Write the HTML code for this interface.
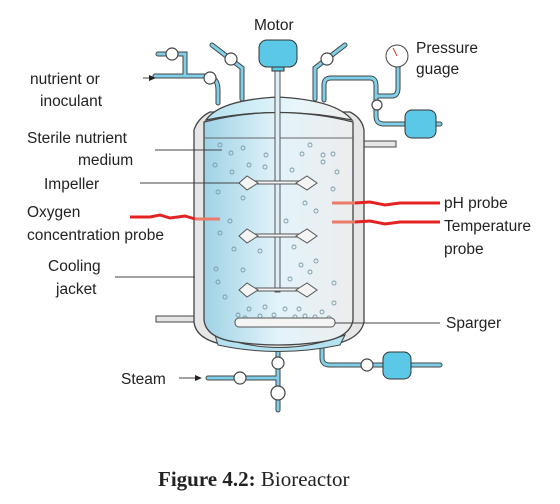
<!DOCTYPE html>
<html><head><meta charset="utf-8"><style>
html,body{margin:0;padding:0;background:#fff}
svg{display:block}
text{font-family:"Liberation Sans",sans-serif;font-size:15.5px;fill:#222}
</style></head><body>
<svg width="560" height="504" viewBox="0 0 560 504">
<defs>
<linearGradient id="liq" x1="0" x2="1"><stop offset="0" stop-color="#9fd3e6"/><stop offset="0.5" stop-color="#e3f3fa"/><stop offset="1" stop-color="#ededed"/></linearGradient>
<linearGradient id="dome" x1="0" x2="1"><stop offset="0" stop-color="#b5e2f0"/><stop offset="0.6" stop-color="#e8f6fb"/><stop offset="1" stop-color="#eeeeee"/></linearGradient>
</defs>
<g fill="none" stroke-linecap="round">
<g stroke="#444" stroke-width="5">
<path d="M158 54 H185 V76 H205 Q218 76 218 90 V103"/>
<path d="M155 76 H205"/>
<path d="M212 45 L242 68 V99"/>
<path d="M345 45 L315 68 V99"/>
<path d="M324 100 V85 Q324 78 331 78 H370 Q376 78 376 86 V96 H392 Q398 96 398 88 V66"/>
<path d="M376 96 V116 Q376 124 384 124 H440"/>
<path d="M322 345 V358 Q322 365 330 365 H440"/>
<path d="M278 345 V410"/>
<path d="M208 378 H278"/>
</g>
<g stroke="#7fcfe8" stroke-width="3">
<path d="M158 54 H185 V76 H205 Q218 76 218 90 V103"/>
<path d="M155 76 H205"/>
<path d="M212 45 L242 68 V99"/>
<path d="M345 45 L315 68 V99"/>
<path d="M324 100 V85 Q324 78 331 78 H370 Q376 78 376 86 V96 H392 Q398 96 398 88 V66"/>
<path d="M376 96 V116 Q376 124 384 124 H440"/>
<path d="M322 345 V358 Q322 365 330 365 H440"/>
<path d="M278 345 V410"/>
<path d="M208 378 H278"/>
</g>
</g>
<g fill="#fff" stroke="#444" stroke-width="1.2">
<circle cx="172" cy="54" r="6"/><circle cx="210" cy="78" r="6"/><circle cx="231" cy="59" r="6"/><circle cx="327" cy="59" r="6"/>
<circle cx="377" cy="105" r="5"/><circle cx="367" cy="365" r="6"/><circle cx="240" cy="378" r="6"/><circle cx="278" cy="363" r="6"/><circle cx="278" cy="393" r="7"/>
</g>
<g><circle cx="397" cy="56" r="11" fill="#fff" stroke="#444"/><line x1="397" y1="56" x2="393" y2="48" stroke="#d33"/></g>
<rect x="405" y="110" width="31" height="28" rx="7" fill="#5bc8e8" stroke="#333"/>
<rect x="383" y="352" width="28" height="27" rx="7" fill="#5bc8e8" stroke="#333"/>
<path d="M362 141 H396 V147 H362Z" fill="#e6e6e6" stroke="#444"/>
<path d="M156 316 H196 V322 H156Z" fill="#e6e6e6" stroke="#444"/>
<path d="M194 130 Q198 118 210 112 L350 112 Q362 118 364 130 V322 Q360 340 330 345 Q278 352 226 345 Q196 340 194 322Z" fill="#e6e6e6" stroke="#444" stroke-width="1.3"/>
<path d="M215 335 Q278 360 345 335 L340 345 Q278 358 218 345Z" fill="#b5e2f0" stroke="#444"/>
<path d="M206 120 Q220 100 278 97 Q336 100 352 120 Q278 105 206 120Z" fill="url(#dome)" stroke="#444" stroke-width="1.3"/>
<path d="M204 122 Q278 103 353 122 V320 Q350 338 320 342 Q278 348 236 342 Q206 338 204 320Z" fill="url(#liq)" stroke="#444" stroke-width="1.3"/>
<line x1="204" y1="138" x2="353" y2="138" stroke="#666"/>
<g fill="none" stroke="#7a9aa8" stroke-width="0.9">
<circle cx="220" cy="145" r="2"/><circle cx="231" cy="153" r="2"/><circle cx="243" cy="148" r="2"/><circle cx="266" cy="155" r="2"/><circle cx="215" cy="165" r="2"/><circle cx="249" cy="165" r="2"/><circle cx="232" cy="172" r="2"/><circle cx="265" cy="167" r="2"/><circle cx="302" cy="154" r="2"/><circle cx="310" cy="145" r="2"/><circle cx="323" cy="155" r="2"/><circle cx="333" cy="154" r="2"/><circle cx="323" cy="162" r="2"/><circle cx="292" cy="170" r="2"/><circle cx="337" cy="172" r="2"/><circle cx="218" cy="192" r="2"/><circle cx="243" cy="198" r="2"/><circle cx="333" cy="189" r="2"/><circle cx="305" cy="203" r="2"/><circle cx="316" cy="211" r="2"/><circle cx="230" cy="221" r="2"/><circle cx="220" cy="233" r="2"/><circle cx="286" cy="221" r="2"/><circle cx="234" cy="249" r="2"/><circle cx="260" cy="251" r="2"/><circle cx="294" cy="247" r="2"/><circle cx="216" cy="269" r="2"/><circle cx="243" cy="270" r="2"/><circle cx="301" cy="265" r="2"/><circle cx="316" cy="261" r="2"/><circle cx="310" cy="272" r="2"/><circle cx="290" cy="279" r="2"/><circle cx="218" cy="282" r="2"/><circle cx="225" cy="297" r="2"/><circle cx="334" cy="283" r="2"/><circle cx="334" cy="303" r="2"/><circle cx="249" cy="309" r="2"/><circle cx="265" cy="307" r="2"/><circle cx="285" cy="309" r="2"/><circle cx="299" cy="309" r="2"/><circle cx="322" cy="312" r="2"/><circle cx="238" cy="315" r="2"/><circle cx="245" cy="318" r="2"/><circle cx="260" cy="316" r="2"/><circle cx="274" cy="315" r="2"/><circle cx="295" cy="317" r="2"/><circle cx="305" cy="316" r="2"/><circle cx="315" cy="317" r="2"/><circle cx="329" cy="318" r="2"/>
</g>
<rect x="235" y="318" width="100" height="9" rx="4" fill="#f4f4f4" stroke="#555"/>
<g stroke="#555" fill="#f4f4f4">
<rect x="275" y="70" width="5" height="222" fill="#dfeff5"/>
<rect x="250" y="181" width="56" height="3"/><rect x="250" y="234" width="56" height="3"/><rect x="250" y="288" width="56" height="3"/>
<path d="M239 183 L247 176 L258 183 L247 190Z M296 183 L307 176 L317 183 L307 190Z"/>
<path d="M239 236 L247 229 L258 236 L247 243Z M296 236 L307 229 L317 236 L307 243Z"/>
<path d="M239 290 L247 283 L258 290 L247 297Z M296 290 L307 283 L317 290 L307 297Z"/>
</g>
<g><rect x="272" y="64" width="12" height="7" fill="#5bc8e8" stroke="#333"/><rect x="259" y="40" width="38" height="27" rx="8" fill="#5bc8e8" stroke="#333"/></g>
<g fill="none" stroke-width="3">
<path d="M130 217 L150 217 L160 215 L170 218 L185 216 L195 219" stroke="#e52222"/><path d="M195 219 H220" stroke="#ea7a6a"/>
<path d="M332 203 H355" stroke="#ea7a6a"/><path d="M355 203 L370 202 L385 205 L400 203 H440" stroke="#e52222"/>
<path d="M332 222 H355" stroke="#ea7a6a"/><path d="M355 222 L370 221 L385 224 L400 222 H440" stroke="#e52222"/>
</g>
<g stroke="#444" fill="none" stroke-width="1">
<path d="M155 150 H222"/><path d="M140 183 H240"/><path d="M115 277 H195"/><path d="M335 323 H440"/>
<path d="M143 78 H153" /><path d="M179 378 H200"/>
</g>
<g fill="#222"><path d="M156 78 L149 75 L149 81Z"/><path d="M202 378 L195 375 L195 381Z"/></g>
<g>
<text x="254" y="30">Motor</text>
<text x="416" y="53">Pressure</text><text x="416" y="74">guage</text>
<text x="30" y="84">nutrient or</text><text x="40" y="106">inoculant</text>
<text x="27" y="143">Sterile nutrient</text><text x="78" y="165">medium</text>
<text x="44" y="189">Impeller</text>
<text x="27" y="217">Oxygen</text><text x="27" y="240">concentration probe</text>
<text x="48" y="271">Cooling</text><text x="56" y="294">jacket</text>
<text x="444" y="208">pH probe</text><text x="444" y="231">Temperature</text><text x="444" y="254">probe</text>
<text x="446" y="328">Sparger</text>
<text x="121" y="384">Steam</text>
<text x="158" y="486" style="font-family:'Liberation Serif',serif;font-size:21px"><tspan font-weight="bold">Figure 4.2:</tspan> Bioreactor</text>
</g>
</svg>
</body></html>
